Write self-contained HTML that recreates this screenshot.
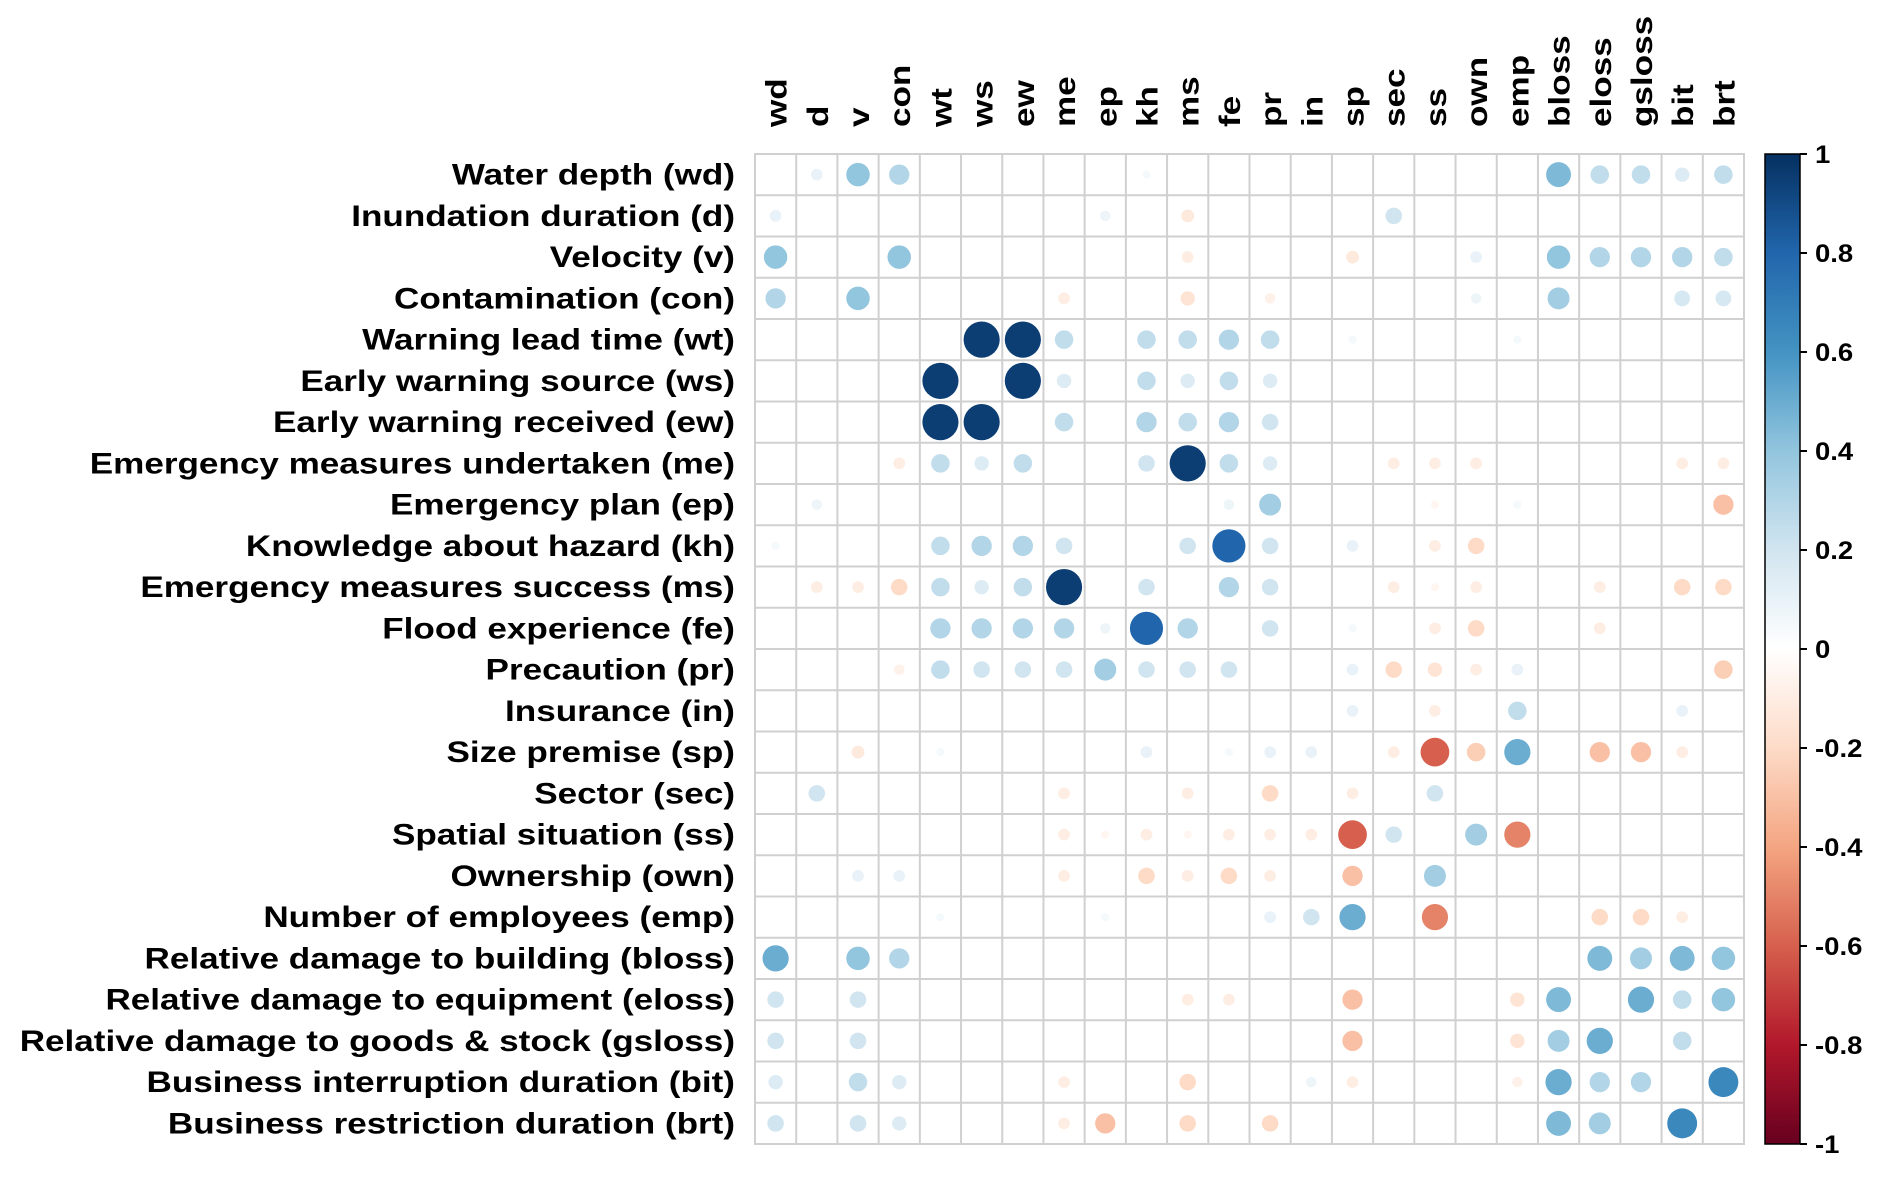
<!DOCTYPE html>
<html><head><meta charset="utf-8"><style>
html,body{margin:0;padding:0;background:#fff;}
svg text{font-family:"Liberation Sans",Arial,sans-serif;font-weight:bold;fill:#000;}
</style></head><body>
<svg id="chart" width="1892" height="1176" viewBox="0 0 1892 1176" xmlns="http://www.w3.org/2000/svg"></svg>
<script>
const codes = ["wd","d","v","con","wt","ws","ew","me","ep","kh","ms","fe","pr","in","sp","sec","ss","own","emp","bloss","eloss","gsloss","bit","brt"];
const rowLabels = ["Water depth (wd)","Inundation duration (d)","Velocity (v)","Contamination (con)","Warning lead time (wt)","Early warning source (ws)","Early warning received (ew)","Emergency measures undertaken (me)","Emergency plan (ep)","Knowledge about hazard (kh)","Emergency measures success (ms)","Flood experience (fe)","Precaution (pr)","Insurance (in)","Size premise (sp)","Sector (sec)","Spatial situation (ss)","Ownership (own)","Number of employees (emp)","Relative damage to building (bloss)","Relative damage to equipment (eloss)","Relative damage to goods & stock (gsloss)","Business interruption duration (bit)","Business restriction duration (brt)"];
const colorTicks = ["1","0.8","0.6","0.4","0.2","0","-0.2","-0.4","-0.6","-0.8","-1"];
const rowWd=[0,.1,.4,.3,0,0,0,0,0,.05,0,0,0,0,0,0,0,0,0,.45,.25,.25,.15,.25];
const rowD=[.1,0,0,0,0,0,0,0,.08,0,-.12,0,0,0,0,.2,0,0,0,0,0,0,0,0];
const rowV=[.4,0,0,.4,0,0,0,0,0,0,-.1,0,0,0,-.12,0,0,.1,0,.4,.3,.3,.3,.25];
const rowCon=[.3,0,.4,0,0,0,0,-.1,0,0,-.15,0,-.08,0,0,0,0,.08,0,.35,0,0,.18,.18];
const rowWt=[0,0,0,0,0,.95,.95,.25,0,.25,.25,.3,.25,0,.05,0,0,0,.05,0,0,0,0,0];
const rowWs=[0,0,0,0,.95,0,.95,.15,0,.25,.15,.25,.15,0,0,0,0,0,0,0,0,0,0,0];
const rowEw=[0,0,0,0,.95,.95,0,.25,0,.3,.25,.3,.2,0,0,0,0,0,0,0,0,0,0,0];
const rowMe=[0,0,0,-.1,.25,.15,.25,0,0,.2,.95,.25,.15,0,0,-.1,-.1,-.1,0,0,0,0,-.1,-.1];
const rowEp=[0,.08,0,0,0,0,0,0,0,0,0,.08,.35,0,0,0,-.05,0,.05,0,0,0,0,-.3];
const rowKh=[.05,0,0,0,.25,.3,.3,.2,0,0,.2,.8,.2,0,.1,0,-.1,-.2,0,0,0,0,0,0];
const rowMs=[0,-.1,-.1,-.2,.25,.15,.25,.95,0,.2,0,.3,.2,0,0,-.1,-.05,-.1,0,0,-.1,0,-.2,-.2];
const rowFe=[0,0,0,0,.3,.3,.3,.3,.08,.8,.3,0,.2,0,.05,0,-.1,-.2,0,0,-.1,0,0,0];
const rowPr=[0,0,0,-.08,.25,.2,.2,.2,.35,.2,.2,.2,0,0,.1,-.2,-.15,-.1,.1,0,0,0,0,-.25];
const rowIn=[0,0,0,0,0,0,0,0,0,0,0,0,0,0,.1,0,-.1,0,.25,0,0,0,.1,0];
const rowSp=[0,0,-.12,0,.05,0,0,0,0,.1,0,.05,.1,.1,0,-.1,-.6,-.25,.5,0,-.3,-.3,-.1,0];
const rowSec=[0,.2,0,0,0,0,0,-.1,0,0,-.1,0,-.2,0,-.1,0,.2,0,0,0,0,0,0,0];
const rowSs=[0,0,0,0,0,0,0,-.1,-.05,-.1,-.05,-.1,-.1,-.1,-.6,.2,0,.35,-.5,0,0,0,0,0];
const rowOwn=[0,0,.1,.1,0,0,0,-.1,0,-.2,-.1,-.2,-.1,0,-.3,0,.35,0,0,0,0,0,0,0];
const rowEmp=[0,0,0,0,.05,0,0,0,.05,0,0,0,.1,.2,.5,0,-.5,0,0,0,-.2,-.2,-.1,0];
const rowBloss=[.5,0,.4,.3,0,0,0,0,0,0,0,0,0,0,0,0,0,0,0,0,.45,.35,.45,.4];
const rowEloss=[.2,0,.2,0,0,0,0,0,0,0,-.1,-.1,0,0,-.3,0,0,0,-.15,.45,0,.5,.25,.4];
const rowGsloss=[.2,0,.2,0,0,0,0,0,0,0,0,0,0,0,-.3,0,0,0,-.15,.35,.5,0,.25,0];
const rowBit=[.15,0,.25,.15,0,0,0,-.1,0,0,-.2,0,0,.08,-.1,0,0,0,-.08,.5,.3,.3,0,.65];
const rowBrt=[.2,0,.2,.15,0,0,0,-.1,-.3,0,-.2,0,-.2,0,0,0,0,0,0,.45,.35,0,.65,0];
const matrix=[rowWd,rowD,rowV,rowCon,rowWt,rowWs,rowEw,rowMe,rowEp,rowKh,rowMs,rowFe,rowPr,rowIn,rowSp,rowSec,rowSs,rowOwn,rowEmp,rowBloss,rowEloss,rowGsloss,rowBit,rowBrt];

const NS="http://www.w3.org/2000/svg";
const svg=document.getElementById('chart');
const gx0=755,gx1=1744,gy0=154,gy1=1144;
const n=codes.length;
const cw=(gx1-gx0)/n, ch=(gy1-gy0)/n;
const STRETCH=1.17;
function xPos(j){return gx0+(j+0.5)*cw;}
function yPos(i){return gy0+(i+0.5)*ch;}
const stops=[[-1,[103,0,31]],[-.8,[178,24,43]],[-.6,[214,96,77]],[-.4,[244,165,130]],[-.2,[253,219,199]],[0,[255,255,255]],[.2,[209,229,240]],[.4,[146,197,222]],[.6,[67,147,195]],[.8,[33,102,172]],[1,[5,48,97]]];
function color(v){
  for(let k=0;k<stops.length-1;k++){
    const a=stops[k],b=stops[k+1];
    if(v>=a[0]&&v<=b[0]){const t=(v-a[0])/(b[0]-a[0]);
      const c=a[1].map((x,q)=>Math.round(x+(b[1][q]-x)*t));return `rgb(${c[0]},${c[1]},${c[2]})`;}
  }
  return '#fff';
}
function mk(tag,attrs){const e=document.createElementNS(NS,tag);for(const k in attrs)e.setAttribute(k,attrs[k]);svg.appendChild(e);return e;}

const bg=mk('rect',{x:gx0,y:gy0,width:gx1-gx0,height:gy1-gy0,fill:'#fff',stroke:'#d0d0d0','stroke-width':2});


for(let k=1;k<n;k++){
  const lv=mk('line',{x1:gx0+k*cw,x2:gx0+k*cw,y1:gy0,y2:gy1,stroke:'#d0d0d0','stroke-width':2});
  
  
  const lh=mk('line',{x1:gx0,x2:gx1,y1:gy0+k*ch,y2:gy0+k*ch,stroke:'#d0d0d0','stroke-width':2});
  
  
}
for(let i=0;i<n;i++){for(let j=0;j<n;j++){
  const v=matrix[i][j]; if(!v) continue;
  const r=Math.sqrt(Math.abs(v))*Math.min(cw,ch)/2*0.9;
  const c=mk('circle',{cx:xPos(j),cy:yPos(i),r:r,fill:color(v)});
  
  
}}
rowLabels.forEach((t,i)=>{
  const x=gx0-20,y=yPos(i)+10;
  const e=mk('text',{x:0,y:0,'text-anchor':'end','font-size':30,transform:`translate(${x} ${y}) scale(${STRETCH} 1)`});
  e.textContent=t;
  
  
});
codes.forEach((t,j)=>{
  const x=xPos(j)+11,y=127;
  const e=mk('text',{x:0,y:0,'font-size':30,transform:`translate(${x} ${y}) rotate(-90) scale(${STRETCH} 1)`});
  e.textContent=t;
  
  
});
const defs=document.createElementNS(NS,'defs');svg.appendChild(defs);
const lg=document.createElementNS(NS,'linearGradient');
lg.setAttribute('id','cb');lg.setAttribute('x1','0');lg.setAttribute('y1','0');lg.setAttribute('x2','0');lg.setAttribute('y2','1');
defs.appendChild(lg);
stops.slice().reverse().forEach((s,k)=>{const st=document.createElementNS(NS,'stop');st.setAttribute('offset',(k/10));st.setAttribute('stop-color',color(s[0]));lg.appendChild(st);});
const cbx0=1765,cbx1=1800;
const cb=mk('rect',{x:cbx0,y:gy0,width:cbx1-cbx0,height:gy1-gy0,fill:'url(#cb)',stroke:'#000','stroke-width':1.5});


colorTicks.forEach((t,k)=>{
  const y=gy0+k*(gy1-gy0)/(colorTicks.length-1);
  const tk=mk('line',{x1:cbx1,x2:cbx1+7,y1:y,y2:y,stroke:'#000','stroke-width':2});
  
  
  const e=mk('text',{x:0,y:0,'font-size':25,transform:`translate(${cbx1+15} ${y+9}) scale(1.1 1)`});
  e.textContent=t;
  
  
});
</script>
</body></html>
